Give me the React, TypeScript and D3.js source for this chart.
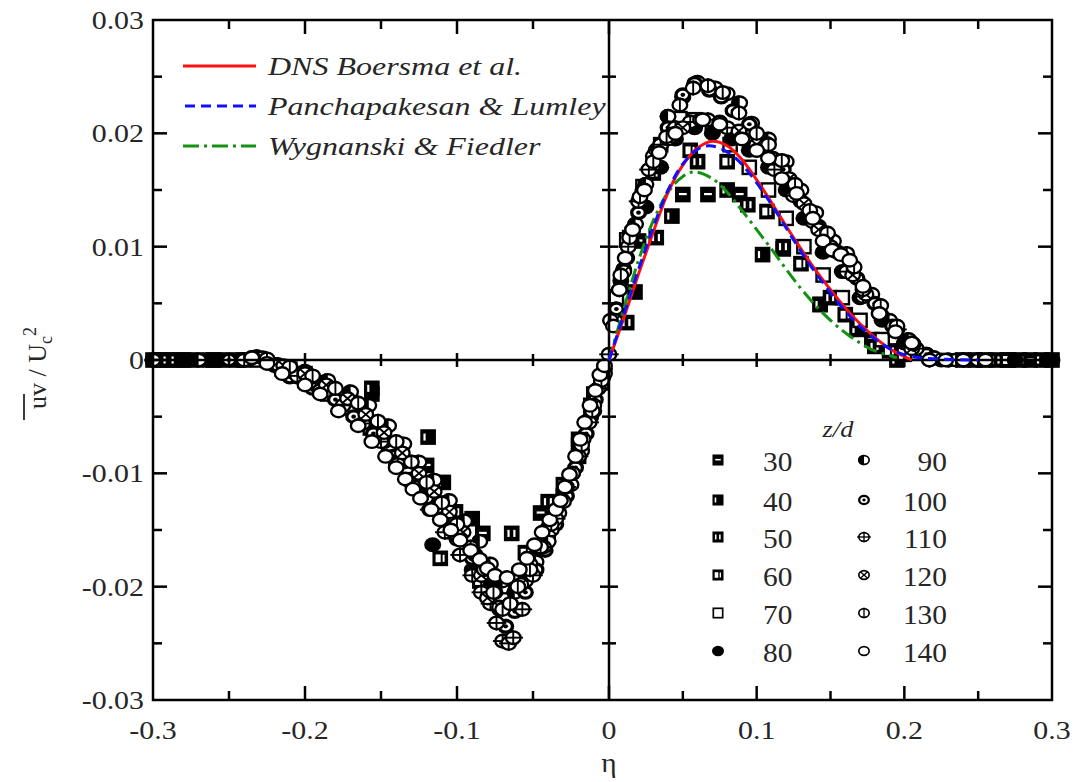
import React from 'react';
import * as d3 from 'd3';

const W = 1086, H = 782;

// ---------- data ----------
const xMajor = [-0.3, -0.2, -0.1, 0, 0.1, 0.2, 0.3];
const xMajorLabels = ['-0.3', '-0.2', '-0.1', '0', '0.1', '0.2', '0.3'];
const xMinor = [-0.25, -0.15, -0.05, 0.05, 0.15, 0.25];
const yMajor = [-0.03, -0.02, -0.01, 0, 0.01, 0.02, 0.03];
const yMajorLabels = ['-0.03', '-0.02', '-0.01', '0', '0.01', '0.02', '0.03'];
const yMinor = [-0.025, -0.015, -0.005, 0.005, 0.015, 0.025];

const dnsBoersma: [number, number][] = [[0,0],[0.01,0.0037],[0.02,0.0076],[0.03,0.0113],[0.04,0.0148],[0.05,0.0172],[0.06,0.0187],[0.07,0.0193],[0.08,0.0189],[0.09,0.0177],[0.10,0.0159],[0.11,0.0139],[0.12,0.0118],[0.13,0.0098],[0.14,0.0079],[0.15,0.0062],[0.16,0.0046],[0.17,0.0032],[0.18,0.0020],[0.19,0.0010],[0.2,0.0003],[0.205,0]];
const panchapakesan: [number, number][] = [[0,0],[0.01,0.0040],[0.02,0.0080],[0.03,0.0117],[0.04,0.0150],[0.05,0.0173],[0.06,0.0186],[0.067,0.0189],[0.075,0.0187],[0.085,0.0179],[0.095,0.0165],[0.105,0.0147],[0.115,0.0127],[0.125,0.0106],[0.135,0.0086],[0.145,0.0068],[0.155,0.0051],[0.165,0.0036],[0.175,0.0024],[0.185,0.0014],[0.195,0.0007],[0.205,0.0003],[0.22,0.0001],[0.25,0]];
const wygnanski: [number, number][] = [[0,0],[0.01,0.0045],[0.02,0.0088],[0.03,0.0123],[0.04,0.0148],[0.05,0.0162],[0.058,0.0166],[0.07,0.0160],[0.08,0.0148],[0.09,0.0132],[0.10,0.0115],[0.11,0.0098],[0.12,0.0080],[0.13,0.0063],[0.14,0.0048],[0.15,0.0035],[0.16,0.0024],[0.17,0.0015],[0.18,0.0008],[0.19,0.0004],[0.195,0.0002]];

const s30: [number, number][] = [[-0.295,0],[-0.275,0],[-0.255,0],[-0.2,-0.0012],[-0.156,-0.0030],[-0.12,-0.0093],[-0.083,-0.0153],[-0.045,-0.0135],[-0.02,-0.0075],[-0.005,-0.002],[0.005,0.0047],[0.02,0.0105],[0.05,0.0146],[0.067,0.0146],[0.0885,0.0146],[0.118,0.0098],[0.143,0.0049],[0.178,0.0018],[0.27,0],[0.285,0],[0.3,0]];
const s40: [number, number][] = [[-0.29,0],[-0.265,0],[-0.24,0],[-0.19,-0.002],[-0.156,-0.0025],[-0.119,-0.0068],[-0.109,-0.0108],[-0.09,-0.014],[-0.064,-0.0195],[-0.035,-0.013],[-0.012,-0.004],[0.0176,0.006],[0.0426,0.0127],[0.08,0.015],[0.104,0.0093],[0.143,0.0049],[0.168,0.0027],[0.195,0],[0.255,0],[0.293,0]];
const s50: [number, number][] = [[-0.285,0],[-0.245,0],[-0.21,-0.0008],[-0.17,-0.004],[-0.14,-0.0085],[-0.101,-0.0134],[-0.064,-0.0153],[-0.04,-0.0125],[-0.02,-0.007],[0.012,0.0033],[0.032,0.0108],[0.06,0.0175],[0.094,0.0137],[0.118,0.0100],[0.15,0.0055],[0.18,0.0012],[0.262,0],[0.278,0]];
const s60: [number, number][] = [[-0.3,0],[-0.28,0],[-0.26,0],[-0.2,-0.0015],[-0.16,-0.005],[-0.13,-0.0105],[-0.111,-0.0175],[-0.085,-0.0195],[-0.055,-0.017],[-0.03,-0.011],[-0.01,-0.003],[0.005,0.004],[0.014,0.0108],[0.03,0.0165],[0.055,0.0185],[0.08,0.0175],[0.107,0.0131],[0.13,0.0085],[0.16,0.0040],[0.19,0.0008],[0.248,0],[0.27,0]];
const s70: [number, number][] = [[-0.23,0],[-0.215,-0.0008],[-0.2,-0.0018],[-0.185,-0.0030],[-0.17,-0.0042],[-0.157,-0.0060],[-0.145,-0.0078],[-0.132,-0.0098],[-0.12,-0.0120],[-0.11,-0.0135],[-0.1,-0.0150],[-0.09,-0.0170],[-0.08,-0.019],[-0.07,-0.0200],[-0.06,-0.0195],[-0.05,-0.0180],[-0.04,-0.0155],[-0.03,-0.0120],[-0.02,-0.0085],[-0.005,-0.002],[0.005,0.0055],[0.012,0.0106],[0.023,0.0153],[0.035,0.0190],[0.048,0.0213],[0.058,0.0212],[0.07,0.0205],[0.082,0.0190],[0.095,0.017],[0.108,0.0150],[0.12,0.0125],[0.132,0.0100],[0.145,0.0075],[0.158,0.0055],[0.17,0.0035],[0.185,0.0018],[0.2,0.0005],[0.24,0]];
const s80: [number, number][] = [[-0.3,0],[-0.28,0],[-0.26,0],[-0.24,0],[-0.22,-0.0004],[-0.205,-0.0015],[-0.19,-0.0025],[-0.175,-0.0040],[-0.16,-0.0055],[-0.148,-0.0072],[-0.135,-0.009],[-0.125,-0.0112],[-0.116,-0.0163],[-0.105,-0.0152],[-0.09,-0.0185],[-0.078,-0.0200],[-0.068,-0.0235],[-0.06,-0.0200],[-0.05,-0.0175],[-0.04,-0.0148],[-0.03,-0.012],[-0.02,-0.0085],[-0.012,-0.005],[-0.004,-0.0012],[0.008,0.007],[0.015,0.0105],[0.025,0.0135],[0.035,0.0170],[0.045,0.0195],[0.058,0.0205],[0.07,0.0200],[0.083,0.0195],[0.095,0.0185],[0.108,0.0170],[0.12,0.0150],[0.132,0.0125],[0.145,0.0095],[0.158,0.0078],[0.17,0.0055],[0.185,0.0035],[0.2,0.0015],[0.225,0],[0.25,0],[0.275,0],[0.3,0]];
const s90: [number, number][] = [[-0.3,0],[-0.27,0],[-0.235,0.0002],[-0.225,-0.0002],[-0.2,-0.0010],[-0.185,-0.0018],[-0.17,-0.0028],[-0.158,-0.0040],[-0.145,-0.0058],[-0.135,-0.0074],[-0.125,-0.0090],[-0.115,-0.0106],[-0.105,-0.0124],[-0.095,-0.0142],[-0.085,-0.0160],[-0.078,-0.0180],[-0.07,-0.0195],[-0.062,-0.0205],[-0.055,-0.0195],[-0.048,-0.0178],[-0.04,-0.0160],[-0.033,-0.0135],[-0.025,-0.0110],[-0.018,-0.0080],[-0.01,-0.0045],[-0.004,-0.0015],[0.005,0.0045],[0.01,0.008],[0.018,0.0120],[0.025,0.0155],[0.032,0.0185],[0.04,0.0215],[0.05,0.0232],[0.06,0.0245],[0.072,0.0240],[0.08,0.0235],[0.0885,0.0227],[0.0966,0.0209],[0.108,0.0195],[0.12,0.0175],[0.13,0.0150],[0.14,0.0130],[0.152,0.0105],[0.165,0.0080],[0.178,0.0058],[0.19,0.0035],[0.203,0.0018],[0.215,0.0005],[0.23,0],[0.25,0]];
const s100: [number, number][] = [[-0.25,0],[-0.232,0.0003],[-0.22,-0.0005],[-0.21,-0.0015],[-0.195,-0.0025],[-0.18,-0.0035],[-0.168,-0.0050],[-0.155,-0.0065],[-0.142,-0.0085],[-0.13,-0.0105],[-0.12,-0.0122],[-0.11,-0.0140],[-0.1,-0.0158],[-0.09,-0.0175],[-0.082,-0.0190],[-0.075,-0.0205],[-0.072,-0.0220],[-0.068,-0.0235],[-0.062,-0.0222],[-0.055,-0.0205],[-0.048,-0.0185],[-0.042,-0.0168],[-0.035,-0.0145],[-0.028,-0.0120],[-0.022,-0.0095],[-0.015,-0.0065],[-0.009,-0.0035],[-0.003,-0.0008],[0.005,0.0045],[0.012,0.0090],[0.02,0.0130],[0.03,0.0170],[0.04,0.0205],[0.05,0.0234],[0.058,0.0244],[0.068,0.0238],[0.076,0.0232],[0.084,0.0220],[0.095,0.0208],[0.107,0.0191],[0.118,0.0168],[0.13,0.0140],[0.142,0.0118],[0.155,0.0095],[0.168,0.0072],[0.18,0.0050],[0.192,0.0030],[0.205,0.0015],[0.215,0.0005],[0.23,0]];
const s110: [number, number][] = [[-0.24,0],[-0.218,-0.0004],[-0.205,-0.0014],[-0.19,-0.0027],[-0.175,-0.0040],[-0.162,-0.0056],[-0.15,-0.0072],[-0.139,-0.0092],[-0.128,-0.0112],[-0.118,-0.0132],[-0.108,-0.0152],[-0.098,-0.0172],[-0.09,-0.0190],[-0.084,-0.0205],[-0.078,-0.0215],[-0.074,-0.0232],[-0.07,-0.0248],[-0.066,-0.0250],[-0.063,-0.0245],[-0.057,-0.0220],[-0.05,-0.0190],[-0.043,-0.0165],[-0.035,-0.0140],[-0.028,-0.0112],[-0.02,-0.0085],[-0.013,-0.0055],[-0.007,-0.0025],[0.0,0.0005],[0.007,0.0062],[0.013,0.0100],[0.02,0.0140],[0.027,0.0168],[0.035,0.0190],[0.045,0.0205],[0.055,0.0210],[0.067,0.0212],[0.08,0.0205],[0.09,0.0196],[0.1,0.0185],[0.112,0.0168],[0.125,0.0145],[0.138,0.0122],[0.15,0.0100],[0.161,0.0078],[0.172,0.0056],[0.184,0.0040],[0.195,0.0027],[0.208,0.0010],[0.22,0.0002],[0.24,0]];
const s120: [number, number][] = [[-0.228,0.0002],[-0.214,-0.0005],[-0.2,-0.0012],[-0.186,-0.0022],[-0.172,-0.0034],[-0.16,-0.0048],[-0.148,-0.0064],[-0.136,-0.0082],[-0.125,-0.0100],[-0.115,-0.0116],[-0.105,-0.0134],[-0.096,-0.0152],[-0.088,-0.0172],[-0.084,-0.0190],[-0.08,-0.0210],[-0.072,-0.0218],[-0.065,-0.0215],[-0.058,-0.0198],[-0.052,-0.0180],[-0.045,-0.0165],[-0.038,-0.0150],[-0.031,-0.0125],[-0.024,-0.0100],[-0.017,-0.0070],[-0.01,-0.0040],[-0.003,-0.0012],[0.004,0.0035],[0.01,0.0078],[0.016,0.0115],[0.023,0.0150],[0.03,0.0180],[0.04,0.0195],[0.05,0.0205],[0.062,0.0212],[0.075,0.0210],[0.088,0.0202],[0.1,0.0190],[0.111,0.0178],[0.122,0.0160],[0.132,0.0138],[0.142,0.0115],[0.153,0.0096],[0.165,0.0075],[0.174,0.0058],[0.183,0.0041],[0.194,0.0025],[0.205,0.0010],[0.22,0.0002],[0.24,0]];
const s130: [number, number][] = [[-0.225,0.0001],[-0.21,-0.0006],[-0.195,-0.0014],[-0.18,-0.0025],[-0.165,-0.0038],[-0.152,-0.0054],[-0.14,-0.0072],[-0.13,-0.0090],[-0.12,-0.0108],[-0.11,-0.0126],[-0.1,-0.0145],[-0.091,-0.0165],[-0.082,-0.0185],[-0.076,-0.0205],[-0.07,-0.0220],[-0.065,-0.0215],[-0.06,-0.0200],[-0.052,-0.0185],[-0.045,-0.0165],[-0.038,-0.0145],[-0.03,-0.0125],[-0.024,-0.0100],[-0.018,-0.0075],[-0.011,-0.0045],[-0.005,-0.0018],[0.001,0.0035],[0.008,0.0075],[0.014,0.0108],[0.021,0.0144],[0.03,0.0175],[0.039,0.0197],[0.048,0.0225],[0.057,0.0240],[0.067,0.0242],[0.077,0.0236],[0.088,0.0218],[0.1,0.0200],[0.108,0.0190],[0.117,0.0176],[0.126,0.0155],[0.136,0.0132],[0.148,0.0112],[0.161,0.0094],[0.166,0.0082],[0.172,0.0062],[0.184,0.0048],[0.195,0.0030],[0.206,0.0014],[0.217,0],[0.235,0],[0.25,0]];
const s140: [number, number][] = [[-0.235,0.0002],[-0.225,-0.0003],[-0.215,-0.0012],[-0.2,-0.0022],[-0.19,-0.0030],[-0.178,-0.0045],[-0.165,-0.0058],[-0.156,-0.0072],[-0.147,-0.0085],[-0.14,-0.0095],[-0.134,-0.0105],[-0.129,-0.0114],[-0.124,-0.0122],[-0.117,-0.0132],[-0.111,-0.0141],[-0.104,-0.0150],[-0.098,-0.0159],[-0.091,-0.0168],[-0.085,-0.0176],[-0.08,-0.0184],[-0.075,-0.0190],[-0.067,-0.0192],[-0.059,-0.0185],[-0.054,-0.0175],[-0.049,-0.0163],[-0.044,-0.0152],[-0.039,-0.0141],[-0.035,-0.0132],[-0.032,-0.0124],[-0.029,-0.0112],[-0.026,-0.0101],[-0.022,-0.0085],[-0.019,-0.0070],[-0.016,-0.0055],[-0.0125,-0.0040],[-0.009,-0.0027],[-0.006,-0.0013],[-0.003,-0.0005],[0.003,0.0030],[0.007,0.0062],[0.011,0.0090],[0.016,0.0115],[0.024,0.0150],[0.034,0.0183],[0.045,0.0200],[0.0635,0.0212],[0.075,0.0208],[0.09,0.0195],[0.1,0.0185],[0.108,0.0178],[0.117,0.0160],[0.127,0.0147],[0.138,0.0125],[0.145,0.0105],[0.151,0.0097],[0.157,0.0093],[0.163,0.0088],[0.172,0.0065],[0.183,0.0041],[0.194,0.0025],[0.205,0.0015],[0.217,0],[0.228,0],[0.24,0],[0.255,0]];

const zdLabels = ['30', '40', '50', '60', '70', '80', '90', '100', '110', '120', '130', '140'];
const zdKinds = ['sq30', 'sq40', 'sq50', 'sq60', 'sq70', 'c80', 'c90', 'c100', 'c110', 'c120', 'c130', 'c140'];
const zdData = [s30, s40, s50, s60, s70, s80, s90, s100, s110, s120, s130, s140];

const lineLabels = ['DNS Boersma et al.', 'Panchapakesan & Lumley', 'Wygnanski & Fiedler'];

// ---------- scales ----------
const x = d3.scaleLinear().domain([-0.3, 0, 0.3]).range([153, 609, 1052]);
const y = d3.scaleLinear().domain([-0.03, 0.03]).range([700, 20]);

const FONT = "'Liberation Serif', 'Times New Roman', Times, serif";

function T({ x: tx, y: ty, children, anchor = 'start', size = 26, sx = 1.15, italic = false, fill = '#262626' }: any) {
  return (
    <text transform={`translate(${tx},${ty}) scale(${sx},1)`} textAnchor={anchor} fontSize={size}
      fontFamily={FONT} fontStyle={italic ? 'italic' : 'normal'} fill={fill}>{children}</text>
  );
}

function Marker({ kind, cx, cy, s }: { kind: string; cx: number; cy: number; s: number }) {
  const sw = Math.max(1.6, s * 0.28);
  const rx = s, ry = s * 0.88;
  if (kind.startsWith('sq')) {
    const h = s * 0.92;
    if (kind === 'sq70') {
      return <rect x={cx - h + sw / 2} y={cy - h + sw / 2} width={2 * h - sw} height={2 * h - sw} fill="#fff" stroke="#000" strokeWidth={sw} />;
    }
    const base = <rect x={cx - h} y={cy - h} width={2 * h} height={2 * h} fill="#000" />;
    if (kind === 'sq30') return <g>{base}<rect x={cx - h * 0.5} y={cy - h * 0.2} width={h} height={h * 0.28} fill="#fff" /></g>;
    if (kind === 'sq40') return <g>{base}<rect x={cx - h * 0.6} y={cy - h * 0.45} width={h * 0.28} height={h * 0.9} fill="#fff" /></g>;
    if (kind === 'sq50') return <g>{base}<rect x={cx - h * 0.55} y={cy - h * 0.45} width={h * 0.28} height={h * 0.9} fill="#fff" /><rect x={cx + h * 0.2} y={cy - h * 0.45} width={h * 0.28} height={h * 0.9} fill="#fff" /></g>;
    return <g>{base}<rect x={cx - h * 0.6} y={cy - h * 0.5} width={h * 0.65} height={h * 1.0} fill="#fff" /><rect x={cx + h * 0.3} y={cy - h * 0.45} width={h * 0.25} height={h * 0.9} fill="#fff" /></g>;
  }
  if (kind === 'c80') return <ellipse cx={cx} cy={cy} rx={rx} ry={ry} fill="#000" />;
  const ring = <ellipse cx={cx} cy={cy} rx={rx - sw / 2} ry={ry - sw / 2} fill="#fff" stroke="#000" strokeWidth={sw} />;
  if (kind === 'c90') {
    const p = `M${cx},${cy - ry} A${rx},${ry} 0 0 0 ${cx},${cy + ry} Z`;
    return <g>{ring}<path d={p} fill="#000" /></g>;
  }
  if (kind === 'c100') return <g><ellipse cx={cx} cy={cy} rx={rx - sw * 0.7} ry={ry - sw * 0.7} fill="#fff" stroke="#000" strokeWidth={sw * 1.4} /><ellipse cx={cx} cy={cy} rx={rx * 0.28} ry={ry * 0.28} fill="#000" /></g>;
  if (kind === 'c110') return <g>{ring}<line x1={cx - rx * 1.15} x2={cx + rx * 1.15} y1={cy} y2={cy} stroke="#000" strokeWidth={sw * 0.8} /><line x1={cx} x2={cx} y1={cy - ry} y2={cy + ry} stroke="#000" strokeWidth={sw * 0.8} /></g>;
  if (kind === 'c120') return <g>{ring}<line x1={cx - rx * 0.6} x2={cx + rx * 0.6} y1={cy - ry * 0.6} y2={cy + ry * 0.6} stroke="#000" strokeWidth={sw * 0.8} /><line x1={cx - rx * 0.6} x2={cx + rx * 0.6} y1={cy + ry * 0.6} y2={cy - ry * 0.6} stroke="#000" strokeWidth={sw * 0.8} /></g>;
  if (kind === 'c130') return <g>{ring}<line x1={cx} x2={cx} y1={cy - ry} y2={cy + ry} stroke="#000" strokeWidth={sw * 0.8} /></g>;
  return ring;
}

export default function App() {
  const line = d3.line<[number, number]>().x(d => x(d[0])).y(d => y(d[1])).curve(d3.curveCatmullRom.alpha(0.5));
  const L = 153, R = 1052, TOP = 20, B = 700, X0 = x(0), Y0 = y(0);
  const major = 14, minor = 9;

  const ticks: JSX.Element[] = [];
  xMajor.slice(1, -1).forEach((v, i) => {
    const px = x(v);
    ticks.push(<line key={'xb' + i} x1={px} x2={px} y1={B} y2={B - major} />);
    ticks.push(<line key={'xt' + i} x1={px} x2={px} y1={TOP} y2={TOP + major} />);
    if (v !== 0) ticks.push(<line key={'xz' + i} x1={px} x2={px} y1={Y0 - 7} y2={Y0 + 7} />);
  });
  xMinor.forEach((v, i) => {
    const px = x(v);
    ticks.push(<line key={'xbm' + i} x1={px} x2={px} y1={B} y2={B - minor} />);
    ticks.push(<line key={'xtm' + i} x1={px} x2={px} y1={TOP} y2={TOP + minor} />);
    ticks.push(<line key={'xzm' + i} x1={px} x2={px} y1={Y0 - 6} y2={Y0 + 6} />);
  });
  yMajor.slice(1, -1).forEach((v, i) => {
    const py = y(v);
    ticks.push(<line key={'yl' + i} x1={L} x2={L + major} y1={py} y2={py} />);
    ticks.push(<line key={'yr' + i} x1={R} x2={R - major} y1={py} y2={py} />);
    if (v !== 0) ticks.push(<line key={'yz' + i} x1={X0 - 9} x2={X0 + 9} y1={py} y2={py} />);
  });
  yMinor.forEach((v, i) => {
    const py = y(v);
    ticks.push(<line key={'ylm' + i} x1={L} x2={L + minor} y1={py} y2={py} />);
    ticks.push(<line key={'yrm' + i} x1={R} x2={R - minor} y1={py} y2={py} />);
    ticks.push(<line key={'yzm' + i} x1={X0 - 7} x2={X0 + 7} y1={py} y2={py} />);
  });

  const legRowsY = [460, 500, 537, 575, 613, 651];

  return (
    <svg width={W} height={H} style={{ position: 'absolute', left: 0, top: 0, background: '#fff' }}>
      <rect x={0} y={0} width={W} height={H} fill="#fff" />
      {/* data markers */}
      {zdData.map((ser, si) => (
        <g key={'s' + si}>
          {ser.map((d, i) => <Marker key={i} kind={zdKinds[si]} cx={x(d[0])} cy={y(d[1])} s={8.5} />)}
        </g>
      ))}
      {/* axes */}
      <g stroke="#000" strokeWidth={2.5} fill="none">
        <rect x={L} y={TOP} width={R - L} height={B - TOP} />
        <line x1={L} x2={R} y1={Y0} y2={Y0} />
        <line x1={X0} x2={X0} y1={TOP} y2={B} />
        {ticks}
      </g>
      {/* model curves */}
      <path d={line(wygnanski) || ''} fill="none" stroke="#129112" strokeWidth={3} strokeDasharray="14,5,3,5" />
      <path d={line(dnsBoersma) || ''} fill="none" stroke="#ff1010" strokeWidth={3} />
      <path d={line(panchapakesan) || ''} fill="none" stroke="#1010ff" strokeWidth={3} strokeDasharray="10,6" />

      {/* tick labels */}
      {yMajor.map((v, i) => <T key={'yl' + i} x={144} y={y(v) + 9} anchor="end">{yMajorLabels[i]}</T>)}
      {xMajor.map((v, i) => <T key={'xl' + i} x={x(v)} y={739} anchor="middle">{xMajorLabels[i]}</T>)}
      <T x={609} y={772} anchor="middle" size={28} sx={1.05}>η</T>

      {/* y-axis title */}
      <g transform="translate(46,368) rotate(-90)">
        <text x={0} y={0} textAnchor="middle" fontSize={26} fontFamily={FONT} fill="#262626">
          <tspan>uv / U</tspan><tspan fontSize={18} dy={6}>c</tspan><tspan fontSize={18} dy={-16}>2</tspan>
        </text>
        <line x1={-52} x2={-26} y1={-22} y2={-22} stroke="#262626" strokeWidth={1.8} />
      </g>

      {/* line legend */}
      <line x1={183} x2={256} y1={66} y2={66} stroke="#ff1010" strokeWidth={3} />
      <line x1={185} x2={256} y1={106} y2={106} stroke="#1010ff" strokeWidth={3} strokeDasharray="10,6" />
      <line x1={183} x2={256} y1={146} y2={146} stroke="#129112" strokeWidth={3} strokeDasharray="16,5,3,5" />
      {lineLabels.map((t, i) => <T key={'ll' + i} x={268} y={75 + i * 40} size={25} sx={1.28} italic>{t}</T>)}

      {/* z/d legend */}
      <T x={838} y={437} size={24} sx={1.1} italic anchor="middle">z/d</T>
      {zdLabels.map((t, i) => {
        const col = Math.floor(i / 6), row = i % 6;
        const sx = col === 0 ? 718 : 864;
        const ry = legRowsY[row];
        return (
          <g key={'zl' + i}>
            <Marker kind={zdKinds[i]} cx={sx} cy={ry} s={6} />
            {col === 0
              ? <T x={763} y={ry + 11} size={28} sx={1.05}>{t}</T>
              : <T x={947} y={ry + 11} size={28} sx={1.05} anchor="end">{t}</T>}
          </g>
        );
      })}
    </svg>
  );
}
